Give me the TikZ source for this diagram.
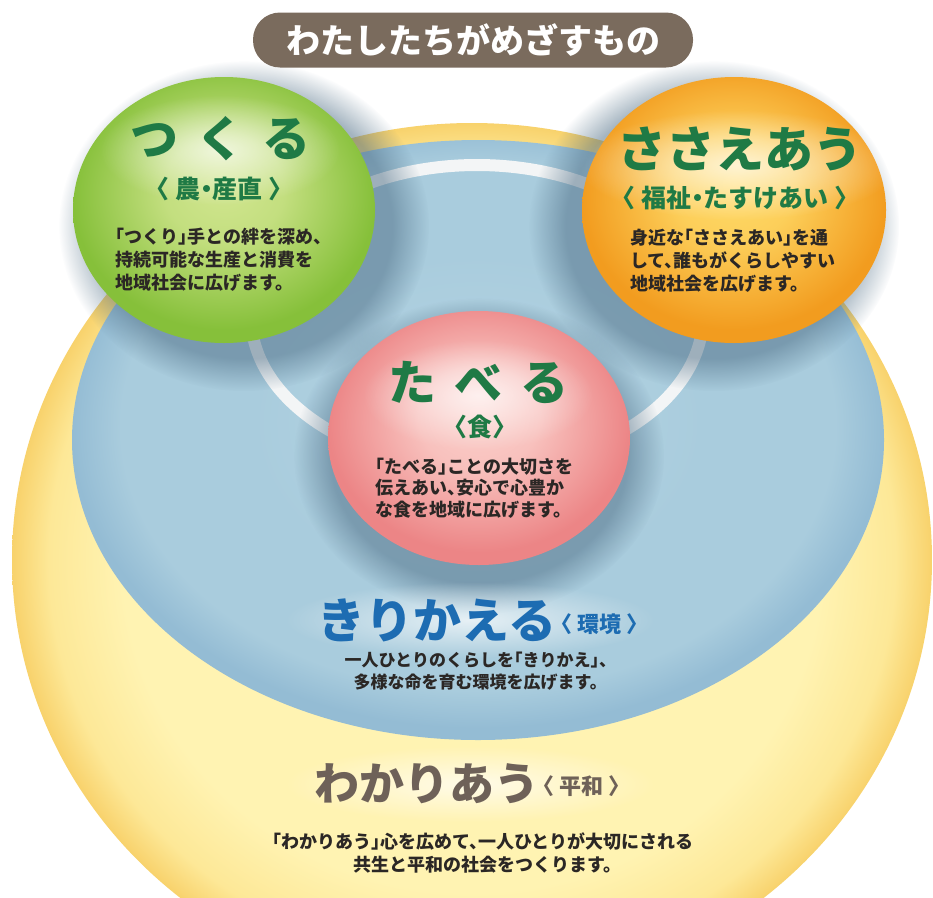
\documentclass[tikz,border=0pt]{standalone}
\usepackage{fontspec}
\setmainfont{Noto Sans CJK JP}
\newfontfamily\jph{Noto Sans CJK JP}[RawFeature=+halt]
\usetikzlibrary{fadings}
\definecolor{yelIn}{HTML}{FFF3B2}
\definecolor{yelMid}{HTML}{FDE897}
\definecolor{yelOut}{HTML}{F8D26C}
\definecolor{bluIn}{HTML}{B6D5E3}
\definecolor{bluMid}{HTML}{A9CCDD}
\definecolor{bluOut}{HTML}{94BCD4}
\definecolor{grnIn}{HTML}{D2E690}
\definecolor{grnOut}{HTML}{86C03A}
\definecolor{orgIn}{HTML}{FFDB68}
\definecolor{orgOut}{HTML}{F29C1F}
\definecolor{pnkIn}{HTML}{FBD0CB}
\definecolor{pnkOut}{HTML}{EC8586}
\definecolor{ttlGreen}{HTML}{1F7A45}
\definecolor{ttlBlue}{HTML}{1D6CB2}
\definecolor{ttlBrown}{HTML}{6E6158}
\definecolor{bodyText}{HTML}{2B2725}
\definecolor{bannerC}{HTML}{7A6B5D}
\definecolor{shadowC}{HTML}{4A6A82}
\definecolor{ringC}{HTML}{F3F5F6}
\pgfdeclareradialshading{yelShade}{\pgfpoint{0bp}{0bp}}{color(0bp)=(yelIn); color(19bp)=(yelIn); color(23bp)=(yelMid); color(25bp)=(yelOut); color(50bp)=(yelOut)}
\pgfdeclareradialshading{bluShade}{\pgfpoint{0bp}{2bp}}{color(0bp)=(bluIn); color(14bp)=(bluMid); color(22bp)=(bluMid); color(25bp)=(bluOut); color(50bp)=(bluOut)}
\pgfdeclareradialshading{grnShade}{\pgfpoint{0bp}{5bp}}{color(0bp)=(grnIn); color(10bp)=(grnIn!80!grnOut); color(25bp)=(grnOut); color(50bp)=(grnOut)}
\pgfdeclareradialshading{orgShade}{\pgfpoint{0bp}{5bp}}{color(0bp)=(orgIn); color(10bp)=(orgIn!80!orgOut); color(25bp)=(orgOut); color(50bp)=(orgOut)}
\pgfdeclareradialshading{pnkShade}{\pgfpoint{0bp}{5bp}}{color(0bp)=(pnkIn); color(10bp)=(pnkIn!80!pnkOut); color(25bp)=(pnkOut); color(50bp)=(pnkOut)}
\tikzfading[name=softglow, inner color=transparent!10, outer color=transparent!100]
\begin{document}
\begin{tikzpicture}[x=1pt,y=-1pt,
  ttl/.style={inner sep=0pt, font=\fontsize{48}{52}\selectfont\bfseries},
  sub/.style={inner sep=0pt, font=\jph\fontsize{25}{28}\selectfont\bfseries},
  smallsub/.style={inner sep=0pt, font=\jph\fontsize{22}{26}\selectfont\bfseries},
  body/.style={inner sep=0pt, text=bodyText, font=\jph\fontsize{18}{23}\selectfont\bfseries},
  glow/.style={fill=white, opacity=0.8, path fading=softglow},
  shadowblob/.style={fill=shadowC, opacity=0.5, path fading=circle with fuzzy edge 20 percent},
  banner/.style={fill=bannerC, rounded corners=27pt, minimum width=440pt, minimum height=55pt, inner sep=0pt, text=white, font=\fontsize{34}{40}\selectfont\bfseries},
  ring/.style={draw=ringC, line width=12pt}
]
\useasboundingbox (0,0) rectangle (933,897);
\fill[white] (0,0) rectangle (933,897);
% outer yellow (peace)
\begin{scope}
  \clip (0,0) rectangle (933,897);
  \shade[shading=yelShade] (472,560) ellipse [x radius=460pt, y radius=437pt];
\end{scope}
% blue (environment)
\shade[shading=bluShade] (478,440) ellipse [x radius=406pt, y radius=300pt];
% white ring
\draw[ring] (477,316) ellipse [x radius=226pt, y radius=151pt];
% shadows
\fill[shadowblob] (244,226) ellipse [x radius=185pt, y radius=165pt];
\fill[shadowblob] (714,226) ellipse [x radius=185pt, y radius=165pt];
\fill[shadowblob] (479,456) ellipse [x radius=185pt, y radius=158pt];
% circles
\shade[shading=grnShade] (224,210) ellipse [x radius=151pt, y radius=133pt];
\shade[shading=orgShade] (734,210) ellipse [x radius=152pt, y radius=133pt];
\shade[shading=pnkShade] (479,438) ellipse [x radius=151pt, y radius=127pt];
% glows behind titles
\fill[glow] (220,150) ellipse [x radius=120pt, y radius=55pt];
\fill[glow] (738,165) ellipse [x radius=160pt, y radius=55pt];
\fill[glow] (478,395) ellipse [x radius=115pt, y radius=55pt];
\fill[glow] (470,620) ellipse [x radius=185pt, y radius=38pt];
\fill[glow] (470,784) ellipse [x radius=185pt, y radius=38pt];
% banner
\node[banner] (ban) at (473,40) {わたしたちがめざすもの};
% tsukuru
\node[ttl, text=ttlGreen] (tsukuru) at (220,139) {つ\hspace{18pt}く\hspace{18pt}る};
\node[sub, text=ttlGreen] (tsukurusub) at (219,189) {〈 農・産直 〉};
\node[body, anchor=west, align=left] (tsukurubody) at (115,260) {「つくり」手との絆を深め、\\持続可能な生産と消費を\\地域社会に広げます。};
% sasaeau
\node[ttl, text=ttlGreen, font=\fontsize{49}{52}\selectfont\bfseries] (sasaeau) at (740,149) {ささえあう};
\node[sub, text=ttlGreen] (sasaeausub) at (735,198) {〈 福祉・たすけあい 〉};
\node[body, anchor=west, align=left] (sasaeaubody) at (630,261) {身近な「ささえあい」を通\\して、誰もがくらしやすい\\地域社会を広げます。};
% taberu
\node[ttl, text=ttlGreen] (taberu) at (478,382) {た\hspace{18pt}べ\hspace{18pt}る};
\node[sub, text=ttlGreen] (taberusub) at (480,427) {〈食〉};
\node[body, anchor=west, align=left, font=\jph\fontsize{18}{21.5}\selectfont\bfseries] (taberubody) at (375,488) {「たべる」ことの大切さを\\伝えあい、安心で心豊か\\な食を地域に広げます。};
% kirikaeru
\node[ttl, text=ttlBlue] (kirikaeru) at (437,620) {きりかえる};
\node[smallsub, text=ttlBlue, anchor=west] (kirikaerusub) at (561,624) {〈 環境 〉};
\node[body, align=center, font=\jph\fontsize{17}{21.5}\selectfont\bfseries] (kirikaerubody) at (476,671) {一人ひとりのくらしを「きりかえ」、\\多様な命を育む環境を広げます。};
% wakariau
\node[ttl, text=ttlBrown, font=\fontsize{45}{50}\selectfont\bfseries] (wakariau) at (427,784) {わかりあう};
\node[smallsub, text=ttlBrown, anchor=west] (wakariausub) at (543,786) {〈 平和 〉};
\node[body, align=center] (wakariaubody) at (483,853) {「わかりあう」心を広めて、一人ひとりが大切にされる\\共生と平和の社会をつくります。};
\end{tikzpicture}
\end{document}
